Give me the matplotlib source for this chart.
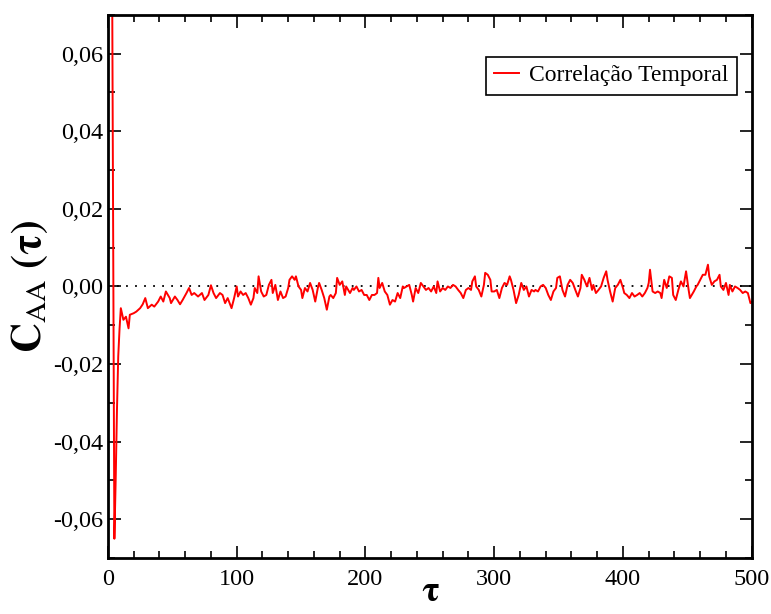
import numpy as np
import matplotlib.pyplot as plt
from matplotlib.ticker import MultipleLocator, FuncFormatter

plt.rcParams['font.family'] = ['Liberation Serif', 'DejaVu Serif']
plt.rcParams['mathtext.fontset'] = 'stix'

# tau and correlation values
tau = [0, 1, 2, 3, 4, 5, 6, 7, 8, 9,
       10, 12, 14, 16, 17, 20, 22, 25, 27, 29, 31, 34, 36, 39, 41, 43, 45, 48, 49,
       52, 54, 56, 58, 61, 63, 65, 67, 70, 73, 75, 78, 80, 82, 84, 87, 89, 91, 93, 96, 98,
       100, 101, 103, 105, 107, 109, 111, 113, 114, 116, 117, 119, 121, 123, 125, 127, 128,
       130, 132, 134, 136, 138, 140, 141, 143, 145, 146, 148, 150, 151, 153, 155, 157, 159,
       161, 163, 164, 166, 168, 170, 172, 173, 175, 177, 178, 180, 182, 184, 185, 188, 190,
       191, 193, 195, 197, 199,
       201, 203, 205, 207, 209, 210, 211, 213, 215, 217, 219, 221, 223, 225, 227, 229, 230,
       232, 234, 236, 237, 239, 241, 243, 245, 247, 249, 251, 253, 255, 256, 258, 260, 262,
       264, 266, 268, 270, 272, 274, 276, 278, 280, 282, 283, 285, 286, 288, 290, 292, 293,
       295, 297, 298,
       300, 302, 304, 306, 308, 310, 312, 313, 315, 317, 319, 321, 323, 325, 327, 329, 331,
       332, 334, 336, 338, 340, 342, 344, 346, 348, 349, 351, 353, 355, 357, 359, 361, 363,
       365, 367, 368, 370, 372, 374, 376, 377, 379, 381, 383, 385, 387, 388, 390, 392, 394,
       396, 398,
       400, 401, 403, 405, 407, 409, 411, 413, 415, 417, 419, 420, 421, 423, 425, 427, 429,
       430, 432, 434, 436, 438, 439, 441, 443, 445, 447, 449, 451, 452, 455, 457, 458, 460,
       462, 464, 466, 467, 469, 471, 473, 475, 476, 478, 480, 482, 483, 485, 487, 489, 491,
       493, 495, 497, 499, 500]

corr = [1.0, 0.55, 0.25, 0.10, 0.02, -0.065, -0.05, -0.032, -0.018, -0.011,
        -0.0056, -0.0086, -0.0078, -0.0108, -0.0073, -0.0069, -0.0065, -0.0056, -0.0046,
        -0.0030, -0.0056, -0.0047, -0.0052, -0.0039, -0.0026, -0.0039, -0.0013, -0.0030,
        -0.0043,
        -0.0026, -0.0035, -0.0046, -0.0035, -0.0017, -0.0004, -0.0022, -0.0017, -0.0026,
        -0.0017, -0.0035, -0.0022, 0.0003, -0.0017, -0.0030, -0.0017, -0.0022, -0.0043,
        -0.0030, -0.0056, -0.0030,
        0.0, -0.0026, -0.0013, -0.0022, -0.0017, -0.0030, -0.0047, -0.0030, -0.0004,
        -0.0017, 0.0026, -0.0013, -0.0026, -0.0022, 0.0004, 0.0017, -0.0017,
        0.0004, -0.0035, -0.0013, -0.0030, -0.0026, -0.0004, 0.0017, 0.0026, 0.0017, 0.0026,
        0.0, -0.0009, -0.0030, -0.0004, -0.0013, 0.0009, -0.0009,
        -0.0039, -0.0004, 0.0009, -0.0009, -0.0030, -0.0060, -0.0026, -0.0022, -0.0030,
        -0.0017, 0.0022, 0.0004, 0.0013, -0.0022, 0.0, -0.0017, -0.0004,
        -0.0009, 0.0, -0.0013, -0.0009, -0.0022,
        -0.0022, -0.0035, -0.0022, -0.0022, -0.0017, 0.0022, -0.0004, 0.0009, -0.0013,
        -0.0022, -0.0047, -0.0035, -0.0039, -0.0017, -0.0030, 0.0, -0.0004,
        0.0, 0.0004, -0.0022, -0.0039, -0.0004, -0.0017, 0.0009, 0.0, -0.0009, -0.0004,
        -0.0013, 0.0, -0.0017, 0.0013, -0.0013, -0.0004, -0.0009,
        0.0, -0.0004, 0.0004, 0.0, -0.0009, -0.0017, -0.0030, -0.0009, -0.0004, -0.0009,
        0.0013, 0.0026, 0.0, -0.0009, -0.0026, 0.0004, 0.0035,
        0.0030, 0.0017, -0.0013,
        -0.0013, -0.0009, -0.0030, -0.0004, 0.0009, 0.0004, 0.0026, 0.0017, -0.0009,
        -0.0043, -0.0022, 0.0009, -0.0009, 0.0, -0.0026, -0.0009, -0.0013,
        -0.0009, -0.0013, 0.0, 0.0004, -0.0004, -0.0022, -0.0035, -0.0013, -0.0004, 0.0022,
        0.0026, -0.0009, -0.0026, 0.0004, 0.0017, 0.0009, -0.0009,
        -0.0026, -0.0004, 0.0030, 0.0017, 0.0, 0.0022, -0.0009, 0.0004, -0.0017, -0.0009,
        0.0, 0.0022, 0.0039, 0.0017, -0.0013, -0.0039, -0.0004,
        0.0004, 0.0017,
        -0.0004, -0.0017, -0.0022, -0.0030, -0.0017, -0.0026, -0.0022, -0.0017, -0.0026,
        -0.0017, -0.0004, 0.0009, 0.0043, -0.0013, -0.0017, -0.0013, -0.0017,
        -0.0030, 0.0017, -0.0004, 0.0026, 0.0022, -0.0022, -0.0035, -0.0009, 0.0013, 0.0,
        0.0039, -0.0009, -0.0030, -0.0013, 0.0, 0.0004, 0.0017,
        0.0030, 0.0030, 0.0056, 0.0026, 0.0004, 0.0013, 0.0017, 0.0030, 0.0, -0.0009,
        0.0009, -0.0022, 0.0004, -0.0013, 0.0, -0.0004, -0.0009,
        -0.0017, -0.0013, -0.0017, -0.0043, -0.0040]

fig = plt.figure(figsize=(7.71, 6.14), dpi=100)
ax = fig.add_axes([0.140, 0.091, 0.835, 0.885])

ax.axhline(0, color='black', lw=1.3, ls=(0, (1, 4)), zorder=1)
ax.plot(tau, corr, color='red', lw=1.4, label='Correlação Temporal', zorder=2)

ax.set_xlim(0, 500)
ax.set_ylim(-0.07, 0.07)
ax.xaxis.set_major_locator(MultipleLocator(100))
ax.xaxis.set_minor_locator(MultipleLocator(20))
ax.yaxis.set_major_locator(MultipleLocator(0.02))
ax.yaxis.set_minor_locator(MultipleLocator(0.01))
ax.yaxis.set_major_formatter(FuncFormatter(lambda v, p: f"{v:.2f}".replace('.', ',').replace('-0,00', '0,00')))

ax.tick_params(which='both', direction='in', top=True, right=True, width=1.2, labelsize=17.5)
ax.tick_params(which='major', length=9)
ax.tick_params(which='minor', length=5)
ax.tick_params(axis='x', pad=8)
for s in ax.spines.values():
    s.set_linewidth(2)

ax.set_xlabel(r'$\mathbf{\tau}$', fontsize=26, labelpad=-10)
ax.set_ylabel(r'$\mathbf{C}_{\mathrm{AA}}\ \mathbf{(\tau)}$', fontsize=30, labelpad=2)

leg = ax.legend(loc='upper right', bbox_to_anchor=(0.977, 0.923), fontsize=17,
                fancybox=False, framealpha=1, edgecolor='black', handlelength=1.05,
                handletextpad=0.45, borderpad=0.35, borderaxespad=0)
leg.get_frame().set_linewidth(1.2)

fig.savefig('out.png', dpi=100)
